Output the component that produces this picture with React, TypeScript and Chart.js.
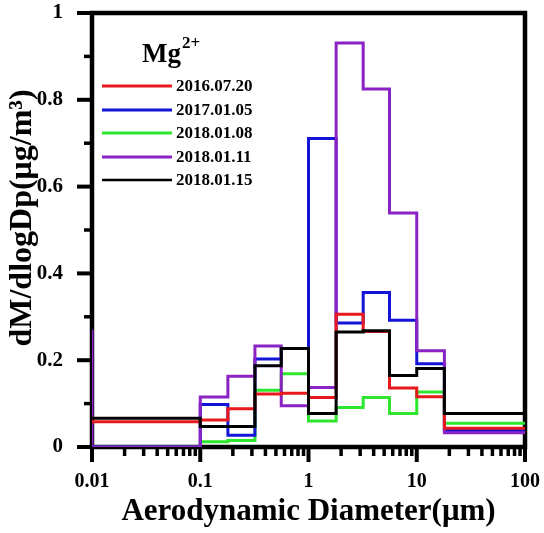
import { useEffect, useRef } from "react";
import { Chart, registerables } from "chart.js";

Chart.register(...registerables);

// ---------- data ----------
const binEdges = [0.01, 0.1, 0.18, 0.32, 0.56, 1, 1.8, 3.2, 5.6, 10, 18, 100];
const seriesLabels = ["2016.07.20", "2017.01.05", "2018.01.08", "2018.01.11", "2018.01.15"];
const seriesColors = ["#e8191c", "#1414d8", "#2ee62e", "#8a22c4", "#000000"];
const series20160720 = [0.058, 0.062, 0.088, 0.122, 0.124, 0.114, 0.306, 0.266, 0.136, 0.116, 0.043];
const series20170105 = [0, 0.098, 0.027, 0.203, 0.227, 0.711, 0.286, 0.356, 0.292, 0.192, 0.038];
const series20180108 = [0, 0.012, 0.015, 0.131, 0.169, 0.06, 0.091, 0.114, 0.077, 0.127, 0.055];
const series20180111 = [0, 0.115, 0.163, 0.233, 0.095, 0.137, 0.931, 0.825, 0.539, 0.222, 0.033];
const series20180115 = [0.066, 0.047, 0.047, 0.187, 0.227, 0.077, 0.265, 0.268, 0.165, 0.181, 0.077];
const series20180111LeadSpike = 0.27;
const drawOrder = [1, 3, 4, 2, 0];

const xMajorTicks = [0.01, 0.1, 1, 10, 100];
const xMinorMultipliers = [2, 3, 4, 5, 6, 7, 8, 9];
const yMajorTicks = [0, 0.2, 0.4, 0.6, 0.8, 1];
const yMinorTicks = [0.1, 0.3, 0.5, 0.7, 0.9];

const legendTitle = "Mg";
const legendTitleSup = "2+";
const xTitle = "Aerodynamic Diameter(\u03bcm)";
const yTitle = "dM/dlogDp(\u03bcg/m\u00b3)";

const SERIF = "'Liberation Serif', 'Times New Roman', serif";

function stepPoints(values: number[], lead?: number) {
  const pts = binEdges.map((e, i) => ({ x: e, y: values[Math.min(i, values.length - 1)] }));
  if (lead !== undefined) pts.unshift({ x: binEdges[0], y: lead });
  return pts;
}

const allSeries = [series20160720, series20170105, series20180108, series20180111, series20180115];

const decorPlugin = {
  id: "decor",
  beforeDatasetsDraw(chart: any) {
    const { ctx, chartArea } = chart;
    const { left, right, top, bottom } = chartArea;
    const xs = chart.scales.x;
    const ys = chart.scales.y;
    ctx.save();
    ctx.strokeStyle = "#000";
    ctx.lineCap = "butt";
    // x ticks
    for (let d = 0; d < xMajorTicks.length; d++) {
      const v = xMajorTicks[d];
      const px = xs.getPixelForValue(v);
      ctx.lineWidth = 4;
      ctx.beginPath();
      ctx.moveTo(px, bottom);
      ctx.lineTo(px, bottom + 15);
      ctx.stroke();
      if (d < xMajorTicks.length - 1) {
        for (const m of xMinorMultipliers) {
          const mp = xs.getPixelForValue(v * m);
          ctx.lineWidth = 3.5;
          ctx.beginPath();
          ctx.moveTo(mp, bottom);
          ctx.lineTo(mp, bottom + 9);
          ctx.stroke();
        }
      }
    }
    // y ticks
    for (const v of yMajorTicks) {
      const py = ys.getPixelForValue(v);
      ctx.lineWidth = 4;
      ctx.beginPath();
      ctx.moveTo(left - 15, py);
      ctx.lineTo(left, py);
      ctx.stroke();
    }
    for (const v of yMinorTicks) {
      const py = ys.getPixelForValue(v);
      ctx.lineWidth = 3.5;
      ctx.beginPath();
      ctx.moveTo(left - 8, py);
      ctx.lineTo(left, py);
      ctx.stroke();
    }
    // frame
    ctx.lineWidth = 4.5;
    ctx.strokeRect(left, top, right - left, bottom - top);
    ctx.restore();
  },
  afterDraw(chart: any) {
    const { ctx } = chart;
    ctx.save();
    // y title
    ctx.fillStyle = "#000";
    ctx.translate(23, 218);
    ctx.rotate(-Math.PI / 2);
    ctx.textAlign = "center";
    ctx.textBaseline = "middle";
    ctx.font = `bold 32px ${SERIF}`;
    ctx.fillText(yTitle, 0, 0);
    ctx.restore();

    // legend
    ctx.save();
    ctx.fillStyle = "#000";
    ctx.textBaseline = "alphabetic";
    ctx.textAlign = "left";
    ctx.font = `bold 27px ${SERIF}`;
    ctx.fillText(legendTitle, 142, 62);
    const w = ctx.measureText(legendTitle).width;
    ctx.font = `bold 17px ${SERIF}`;
    ctx.fillText(legendTitleSup, 142 + w + 1, 48);

    const rowY = [86, 110, 133, 157, 180];
    seriesLabels.forEach((lab, i) => {
      ctx.strokeStyle = seriesColors[i];
      ctx.lineWidth = i === 4 ? 2.5 : 3;
      ctx.beginPath();
      ctx.moveTo(102, rowY[i]);
      ctx.lineTo(172, rowY[i]);
      ctx.stroke();
      ctx.fillStyle = "#000";
      ctx.font = `bold 17px ${SERIF}`;
      ctx.textBaseline = "middle";
      ctx.fillText(lab, 176, rowY[i] + 1);
    });
    ctx.restore();
  },
};

export default function App() {
  const ref = useRef<HTMLCanvasElement | null>(null);

  useEffect(() => {
    if (!ref.current) return;
    const datasets = allSeries.map((vals, i) => ({
      label: seriesLabels[i],
      data: stepPoints(vals, i === 3 ? series20180111LeadSpike : undefined),
      borderColor: seriesColors[i],
      backgroundColor: seriesColors[i],
      borderWidth: 3,
      pointRadius: 0,
      stepped: true,
      fill: false,
      order: drawOrder[i],
    }));

    const chart = new Chart(ref.current, {
      type: "line",
      data: { datasets },
      options: {
        animation: false,
        responsive: false,
        maintainAspectRatio: false,
        layout: { padding: { left: 0, top: 13, right: 19, bottom: 0 } },
        plugins: { legend: { display: false }, tooltip: { enabled: false } },
        scales: {
          x: {
            type: "logarithmic",
            min: 0.01,
            max: 100,
            grid: { display: false },
            border: { display: false },
            afterBuildTicks: (s: any) => {
              s.ticks = xMajorTicks.map((v) => ({ value: v }));
            },
            afterFit: (s: any) => {
              s.height = 86;
              s.paddingLeft = 0;
              s.paddingRight = 0;
              s.paddingTop = 0;
              s.paddingBottom = 0;
            },
            ticks: {
              autoSkip: false,
              maxRotation: 0,
              padding: 15,
              color: "#000",
              font: { family: SERIF, weight: "bold", size: 20 },
              callback: (v: any) => String(v),
            },
            title: {
              display: true,
              text: xTitle,
              color: "#000",
              font: { family: SERIF, weight: "bold", size: 31 },
              padding: { top: 0, bottom: 2 },
            },
          },
          y: {
            type: "linear",
            min: 0,
            max: 1,
            grid: { display: false },
            border: { display: false },
            afterBuildTicks: (s: any) => {
              s.ticks = yMajorTicks.map((v) => ({ value: v }));
            },
            afterFit: (s: any) => {
              s.width = 92;
              s.paddingLeft = 0;
              s.paddingRight = 0;
              s.paddingTop = 0;
              s.paddingBottom = 0;
            },
            ticks: {
              padding: 21,
              color: "#000",
              font: { family: SERIF, weight: "bold", size: 21 },
              callback: (v: any) => String(v),
            },
          },
        },
      },
      plugins: [decorPlugin],
    } as any);
    return () => chart.destroy();
  }, []);

  return (
    <div style={{ position: "absolute", left: 0, top: 0, width: 544, height: 533, background: "#fff" }}>
      <canvas ref={ref} width={544} height={533} style={{ width: 544, height: 533, display: "block" }} />
    </div>
  );
}
